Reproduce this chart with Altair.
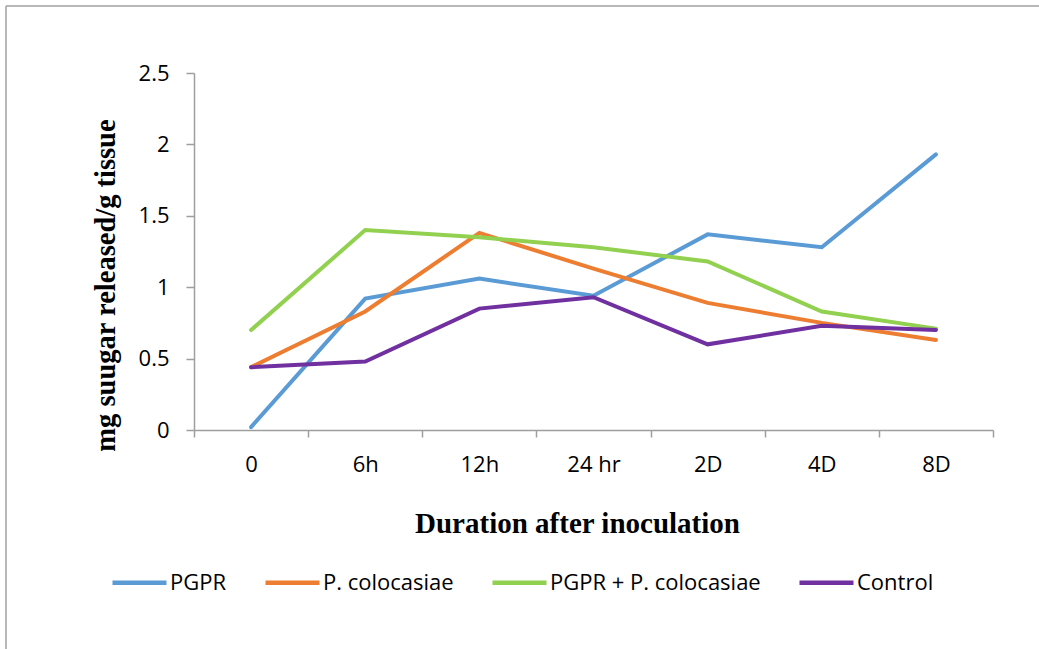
import altair as alt
import pandas as pd

categories = ["0", "6h", "12h", "24 hr", "2D", "4D", "8D"]
series_names = ["PGPR", "P. colocasiae", "PGPR + P. colocasiae", "Control"]
pgpr = [0.02, 0.92, 1.06, 0.94, 1.37, 1.28, 1.93]
p_colocasiae = [0.44, 0.83, 1.38, 1.13, 0.89, 0.75, 0.63]
pgpr_p_colocasiae = [0.70, 1.40, 1.35, 1.28, 1.18, 0.83, 0.71]
control = [0.44, 0.48, 0.85, 0.93, 0.60, 0.73, 0.70]
colors = ["#5B9BD5", "#ED7D31", "#92D050", "#7030A0"]
y_ticks = [0, 0.5, 1, 1.5, 2, 2.5]

rows = []
for name, vals in zip(series_names, [pgpr, p_colocasiae, pgpr_p_colocasiae, control]):
    for i, (c, v) in enumerate(zip(categories, vals)):
        rows.append({"Duration": c, "Value": v, "Series": name, "order": i})
df = pd.DataFrame(rows)
frame = pd.DataFrame({"k": [0]})

AXIS_GRAY = "#9E9E9E"
SANS = "Open Sans"
SERIF = "Liberation Serif"

lines = alt.Chart(df).mark_line(strokeWidth=4, strokeCap="round", strokeJoin="miter").encode(
    x=alt.X("Duration:O", sort=categories, bandPosition=0.5,
            scale=alt.Scale(type="band", paddingInner=0, paddingOuter=0),
            axis=alt.Axis(title="Duration after inoculation", labelAngle=0, tickBand="extent",
                          grid=False,
                          labelFont=SANS, labelFontSize=22, labelColor="#000000", labelPadding=17,
                          tickSize=7, tickColor=AXIS_GRAY, domainColor=AXIS_GRAY, domainWidth=1.5,
                          tickWidth=1.5,
                          titleFont=SERIF, titleFontSize=29, titleFontWeight="bold", titleColor="#000000",
                          titleX=383, titleY=102, titleAnchor="start", titleAlign="center",
                          titleBaseline="alphabetic")),
    y=alt.Y("Value:Q", scale=alt.Scale(domain=[0, 2.5], nice=False),
            axis=alt.Axis(title="mg suugar released/g tissue", values=y_ticks, format="~g", grid=False,
                          labelFont=SANS, labelFontSize=22, labelColor="#000000", labelPadding=17,
                          tickSize=8, tickColor=AXIS_GRAY, domainColor=AXIS_GRAY, domainWidth=1.5,
                          tickWidth=1.5,
                          titleFont=SERIF, titleFontSize=28.5, titleFontWeight="bold", titleColor="#000000",
                          titleX=-80, titleY=212, titleAngle=270, titleAlign="center",
                          titleBaseline="alphabetic")),
    color=alt.Color("Series:N", sort=series_names,
                    scale=alt.Scale(domain=series_names, range=colors),
                    legend=alt.Legend(title=None, orient="none", direction="horizontal",
                                      legendX=-84, legendY=480, symbolType="stroke",
                                      symbolSize=2916, symbolStrokeWidth=4.5, labelFont=SANS,
                                      labelFontSize=22, labelColor="#000000", labelOffset=1,
                                      labelLimit=500, columnPadding=29, padding=0)),
    order="order:Q",
)

# decorative frame (left and top edges of the outer box)
border = alt.Chart(frame).mark_rule(color="#A0A0A0", strokeWidth=1.5, clip=False).encode(
    x=alt.value(-188), x2=alt.value(-188), y=alt.value(-67), y2=alt.value(600)
)
border_top = alt.Chart(frame).mark_rule(color="#A0A0A0", strokeWidth=1.5, clip=False).encode(
    x=alt.value(-188), x2=alt.value(900), y=alt.value(-67), y2=alt.value(-67)
)

chart = alt.layer(lines, border, border_top).properties(
    width=799, height=357,
    autosize=alt.AutoSizeParams(type="none"),
    padding={"left": 194, "top": 73, "right": 46, "bottom": 219},
).configure(
    background="white",
    view=alt.ViewConfig(stroke=None, strokeWidth=0),
    style={"cell": {"stroke": "transparent", "strokeWidth": 0}},
    axis={"grid": False},
)

chart.save("out.html", embed_options={"renderer": "svg", "actions": False})
